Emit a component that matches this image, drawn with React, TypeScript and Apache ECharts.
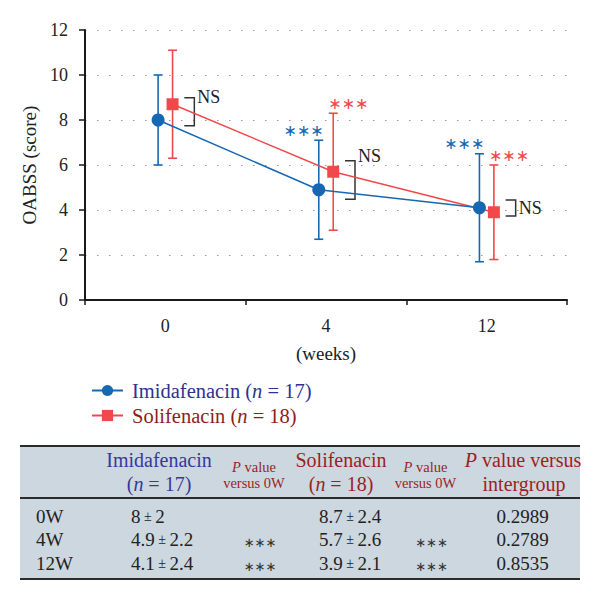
import React, { useEffect, useRef } from "react";
import * as echarts from "echarts";

// ---- data ----
const weeks = ["0", "4", "12"];
const rowLabels = ["0W", "4W", "12W"];
const imidMean = [8, 4.9, 4.1];
const imidSD = [2, 2.2, 2.4];
const solMean = [8.7, 5.7, 3.9];
const solSD = [2.4, 2.6, 2.1];
const imidP = ["", "***", "***"];
const solP = ["", "***", "***"];
const intergroupP = ["0.2989", "0.2789", "0.8535"];
// NS bracket annotation ranges (score units) and label heights
const bracketTop = [8.99, 6.19, 4.44];
const bracketBottom = [7.75, 4.48, 3.73];
const nsLabelY = [9.04, 6.41, 4.1];

const BLUE = "#1668b3";
const RED = "#f2474b";
const SERIF = "Liberation Serif";
const STAR_FONT = "DejaVu Sans";
const OFFSET = 0.045;

const starText = (s: string) => (s ? s.replace(/\*/g, "\u2217") : "");

export default function App() {
  const ref = useRef<HTMLDivElement>(null);
  useEffect(() => {
    if (!ref.current) return;
    const chart = echarts.init(ref.current, null, { renderer: "svg" });

    const imidLine = imidMean.map((m, i) => [i - OFFSET, m]);
    const solLine = solMean.map((m, i) => [i + OFFSET, m]);
    const imidErr = imidMean.map((m, i) => [i - OFFSET, m - imidSD[i], m + imidSD[i]]);
    const solErr = solMean.map((m, i) => [i + OFFSET, m - solSD[i], m + solSD[i]]);
    const brackets = weeks.map((_, i) => [i, bracketTop[i], bracketBottom[i], nsLabelY[i]]);

    const errRender = (color: string, stars: string[], side: "left" | "right") =>
      (params: any, api: any) => {
        const x = api.value(0);
        const lo = api.coord([x, api.value(1)]);
        const hi = api.coord([x, api.value(2)]);
        const cap = 4.5;
        const st = { stroke: color, lineWidth: 1.6 };
        const children: any[] = [
          { type: "line", shape: { x1: lo[0], y1: lo[1], x2: hi[0], y2: hi[1] }, style: st },
          { type: "line", shape: { x1: hi[0] - cap, y1: hi[1], x2: hi[0] + cap, y2: hi[1] }, style: st },
          { type: "line", shape: { x1: lo[0] - cap, y1: lo[1], x2: lo[0] + cap, y2: lo[1] }, style: st },
        ];
        const s = stars[params.dataIndex];
        if (s) {
          children.push({
            type: "text",
            x: side === "right" ? hi[0] + 5 : hi[0] - 5,
            y: hi[1] - 10,
            style: {
              text: starText(s),
              fill: color,
              font: `16px "${STAR_FONT}"`,
              textAlign: side === "right" ? "right" : "left",
              textVerticalAlign: "middle",
            },
          });
        }
        return { type: "group", children };
      };

    const bracketRender = (params: any, api: any) => {
      const c = api.value(0);
      const top = api.coord([c, api.value(1)]);
      const bot = api.coord([c, api.value(2)]);
      const ns = api.coord([c, api.value(3)]);
      const l = top[0] + 19;
      const r = top[0] + 29;
      return {
        type: "group",
        children: [
          {
            type: "polyline",
            shape: { points: [[l, top[1]], [r, top[1]], [r, bot[1]], [l, bot[1]]] },
            style: { stroke: "#333", lineWidth: 1.5, fill: null },
          },
          {
            type: "text",
            x: r + 3,
            y: ns[1],
            style: {
              text: "NS",
              fill: "#222",
              font: `18px "${SERIF}"`,
              textAlign: "left",
              textVerticalAlign: "middle",
            },
          },
        ],
      };
    };

    // ---- table (graphic) ----
    const tX = 20, tW = 560, tTop = 446, tHead = 498, tBot = 579;
    const rowY = [516, 539.5, 563];
    const txt = (x: number, y: number, text: string, size: number, color: string, align = "center", rich?: any, family = SERIF) => ({
      type: "text",
      x,
      y,
      style: {
        text,
        fill: color,
        font: `${size}px "${family}"`,
        align,
        verticalAlign: "middle",
        rich,
      },
    });
    const blueHead = "#34399a";
    const redHead = "#9a1f24";
    const richBig = (color: string) => ({
      a: { fontFamily: SERIF, fontSize: 20, fill: color, color },
      i: { fontFamily: SERIF, fontSize: 20, fontStyle: "italic", fill: color, color },
    });
    const richSmall = (color: string) => ({
      a: { fontFamily: SERIF, fontSize: 14.5, fill: color, color },
      i: { fontFamily: SERIF, fontSize: 14.5, fontStyle: "italic", fill: color, color },
    });
    const richVal = {
      a: { fontFamily: SERIF, fontSize: 19, fill: "#222", color: "#222" },
      pm: { fontFamily: SERIF, fontSize: 14, fill: "#222", color: "#222" },
    };
    const graphics: any[] = [
      { type: "rect", shape: { x: tX, y: tTop, width: tW, height: tBot - tTop }, style: { fill: "#cdd7df" } },
      { type: "line", shape: { x1: tX, y1: tTop, x2: tX + tW, y2: tTop }, style: { stroke: "#2b2b2b", lineWidth: 2 } },
      { type: "line", shape: { x1: tX, y1: tHead, x2: tX + tW, y2: tHead }, style: { stroke: "#2b2b2b", lineWidth: 2 } },
      { type: "line", shape: { x1: tX, y1: tBot, x2: tX + tW, y2: tBot }, style: { stroke: "#2b2b2b", lineWidth: 2 } },
      txt(159, 460, "{a|Imidafenacin}", 20, blueHead, "center", richBig(blueHead)),
      txt(159, 484, "{a|(}{i|n}{a| = 17)}", 20, blueHead, "center", richBig(blueHead)),
      txt(254, 467, "{i|P}{a| value}", 14.5, redHead, "center", richSmall(redHead)),
      txt(254, 483, "{a|versus 0W}", 14.5, redHead, "center", richSmall(redHead)),
      txt(341, 460, "{a|Solifenacin}", 20, redHead, "center", richBig(redHead)),
      txt(341, 484, "{a|(}{i|n}{a| = 18)}", 20, redHead, "center", richBig(redHead)),
      txt(425.5, 467, "{i|P}{a| value}", 14.5, redHead, "center", richSmall(redHead)),
      txt(425.5, 483, "{a|versus 0W}", 14.5, redHead, "center", richSmall(redHead)),
      txt(523, 460, "{i|P}{a| value versus}", 20, redHead, "center", richBig(redHead)),
      txt(524, 484, "{a|intergroup}", 20, redHead, "center", richBig(redHead)),
    ];
    rowLabels.forEach((lab, i) => {
      const y = rowY[i];
      graphics.push(txt(36, y, lab, 19, "#222", "left"));
      graphics.push(txt(131, y, `{a|${imidMean[i]}}{pm| ± }{a|${imidSD[i]}}`, 19, "#222", "left", richVal));
      graphics.push(txt(319, y, `{a|${solMean[i]}}{pm| ± }{a|${solSD[i]}}`, 19, "#222", "left", richVal));
      if (imidP[i]) graphics.push(txt(260, y + 3, starText(imidP[i]), 13, "#333", "center", undefined, STAR_FONT));
      if (solP[i]) graphics.push(txt(431.5, y + 3, starText(solP[i]), 13, "#333", "center", undefined, STAR_FONT));
      graphics.push(txt(522.5, y, intergroupP[i], 19, "#222", "center"));
    });

    const legendRich = (color: string) => ({
      s: { width: 4 },
      a: { fontFamily: SERIF, fontSize: 20.5, color },
      i: { fontFamily: SERIF, fontSize: 20.5, fontStyle: "italic", color },
    });

    chart.setOption({
      animation: false,
      backgroundColor: "#ffffff",
      textStyle: { fontFamily: SERIF },
      grid: { left: 85, top: 30, width: 482, height: 270, containLabel: false },
      legend: {
        orient: "vertical",
        left: 86,
        top: 375,
        itemWidth: 31,
        itemHeight: 14,
        itemGap: 4,
        data: [
          { name: "Imidafenacin", textStyle: { rich: legendRich("#2e3192") } },
          { name: "Solifenacin", textStyle: { rich: legendRich("#8e1c20") } },
        ],
        formatter: (name: string) =>
          name === "Imidafenacin" ? "{s|}{a|Imidafenacin (}{i|n}{a| = 17)}" : "{s|}{a|Solifenacin (}{i|n}{a| = 18)}",
        textStyle: { fontFamily: SERIF, fontSize: 20.5 },
      },
      xAxis: [
        {
          type: "category",
          data: weeks,
          boundaryGap: true,
          axisLine: { lineStyle: { color: "#1a1a1a", width: 2 } },
          axisTick: { show: true, length: 5, lineStyle: { color: "#1a1a1a", width: 1.5 } },
          axisLabel: { fontFamily: SERIF, fontSize: 18, color: "#222", margin: 17 },
          name: "(weeks)",
          nameLocation: "middle",
          nameGap: 44,
          nameTextStyle: { fontFamily: SERIF, fontSize: 19, color: "#222" },
          splitLine: { show: false },
        },
        { type: "value", min: -0.5, max: 2.5, show: false, splitLine: { show: false } },
      ],
      yAxis: {
        type: "value",
        min: 0,
        max: 12,
        interval: 2,
        axisLine: { show: true, onZero: false, lineStyle: { color: "#1a1a1a", width: 2 } },
        axisTick: { show: true, length: 6, lineStyle: { color: "#1a1a1a", width: 1.5 } },
        axisLabel: { fontFamily: SERIF, fontSize: 18, color: "#222", margin: 17 },
        splitLine: { show: true, lineStyle: { color: "#9a9a9a", width: 1.2, type: [1.5, 10.5] } },
        name: "OABSS (score)",
        nameLocation: "middle",
        nameGap: 45,
        nameTextStyle: { fontFamily: SERIF, fontSize: 19, color: "#222" },
      },
      series: [
        {
          name: "Imidafenacin",
          type: "line",
          xAxisIndex: 1,
          data: imidLine,
          symbol: "circle",
          symbolSize: 13,
          itemStyle: { color: BLUE },
          lineStyle: { color: BLUE, width: 1.5 },
          z: 4,
        },
        {
          name: "Solifenacin",
          type: "line",
          xAxisIndex: 1,
          data: solLine,
          symbol: "rect",
          symbolSize: 12,
          itemStyle: { color: RED },
          lineStyle: { color: RED, width: 1.5 },
          z: 3,
        },
        {
          name: "Imidafenacin SD",
          type: "custom",
          xAxisIndex: 1,
          renderItem: errRender(BLUE, imidP, "right"),
          data: imidErr,
          z: 2,
          silent: true,
        },
        {
          name: "Solifenacin SD",
          type: "custom",
          xAxisIndex: 1,
          renderItem: errRender(RED, solP, "left"),
          data: solErr,
          z: 2,
          silent: true,
        },
        {
          name: "NS brackets",
          type: "custom",
          xAxisIndex: 1,
          renderItem: bracketRender,
          data: brackets,
          z: 2,
          silent: true,
        },
      ],
      graphic: graphics,
    });
    return () => chart.dispose();
  }, []);
  return <div ref={ref} style={{ position: "absolute", left: 0, top: 0, width: 600, height: 602 }} />;
}
